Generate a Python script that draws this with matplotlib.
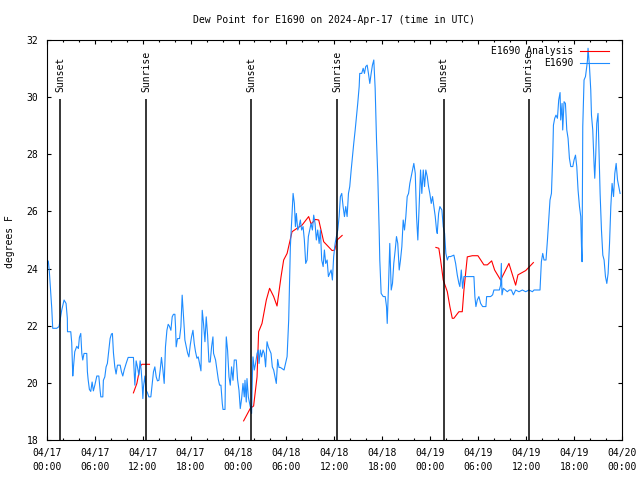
import matplotlib
matplotlib.use("Agg")
import matplotlib.pyplot as plt
import numpy as np

# hours since 2024-04-17 00:00 UTC, dew point in deg F
obs_hours = [
    0.20, 0.33, 0.50, 0.63, 0.75, 1.25, 1.54, 1.67, 1.88, 2.17, 2.42, 2.58, 2.60, 3.01, 3.13, 3.21,
    3.26, 3.33, 3.51, 3.76, 3.96, 4.09, 4.26, 4.39, 4.51, 4.67, 5.01, 5.09, 5.18, 5.34, 5.51, 5.68,
    5.84, 6.02, 6.27, 6.52, 6.68, 6.77, 7.02, 7.09, 7.27, 7.43, 7.59, 7.77, 7.93, 8.10, 8.22, 8.35,
    8.52, 8.68, 8.85, 9.19, 9.35, 9.52, 9.69, 9.94, 10.19, 10.85, 10.94, 11.03, 11.19, 11.35, 11.53,
    11.69, 11.82, 11.94, 12.03, 12.11, 12.28, 12.44, 12.61, 12.78, 13.03, 13.20, 13.36, 13.53, 13.70,
    13.86, 14.04, 14.20, 14.36, 14.54, 14.70, 14.86, 15.04, 15.20, 15.36, 15.54, 15.70, 15.86, 16.04,
    16.12, 16.20, 16.37, 16.62, 16.79, 16.95, 17.04, 17.21, 17.29, 17.46, 17.62, 17.79, 17.96, 18.12,
    18.30, 18.46, 18.62, 18.80, 18.96, 19.12, 19.30, 19.46, 19.62, 19.80, 19.96, 20.13, 20.30, 20.46,
    20.63, 20.80, 20.88, 21.13, 21.30, 21.47, 21.63, 21.80, 21.97, 22.06, 22.31, 22.38, 22.47, 22.63,
    22.81, 22.97, 23.13, 23.31, 23.47, 23.72, 23.88, 24.06, 24.22, 24.39, 24.56, 24.72, 24.81, 24.97,
    25.06, 25.23, 25.48, 25.64, 25.73, 25.81, 25.98, 26.14, 26.32, 26.48, 26.57, 26.73, 26.89, 27.07,
    27.23, 27.39, 27.57, 27.73, 27.89, 28.07, 28.23, 28.40, 28.57, 28.73, 28.90, 29.07, 29.24, 29.70,
    30.08, 30.28, 30.49, 30.70, 30.83, 30.99, 31.12, 31.24, 31.41, 31.58, 31.74, 31.90, 32.08, 32.24,
    32.41, 32.58, 32.74, 32.91, 33.08, 33.25, 33.41, 33.58, 33.74, 33.91, 34.09, 34.25, 34.41, 34.59,
    34.75, 34.91, 35.09, 35.25, 35.41, 35.59, 35.75, 35.91, 36.09, 36.25, 36.42, 36.59, 36.75, 36.92,
    37.09, 37.26, 37.42, 37.59, 37.76, 37.92, 38.10, 38.26, 38.42, 38.60, 38.76, 38.92, 39.10, 39.17,
    39.42, 39.60, 39.76, 39.92, 40.10, 40.26, 40.43, 40.60, 40.76, 40.93, 41.10, 41.27, 41.43, 41.60,
    41.68, 41.85, 42.11, 42.36, 42.52, 42.61, 42.77, 42.93, 43.11, 43.27, 43.43, 43.61, 43.77, 43.93,
    44.11, 44.27, 44.44, 44.61, 44.77, 44.94, 45.11, 45.28, 45.44, 45.61, 45.78, 45.94, 46.12, 46.28,
    46.44, 46.62, 46.78, 46.94, 47.12, 47.28, 47.44, 47.62, 47.78, 47.94, 48.12, 48.28, 48.45, 48.62,
    48.78, 48.87, 49.04, 49.20, 49.45, 49.62, 49.79, 49.95, 50.13, 50.29, 50.54, 50.95, 51.17, 51.38,
    51.58, 51.70, 51.88, 52.04, 52.21, 53.46, 53.58, 53.71, 53.88, 54.08, 54.30, 54.55, 54.96, 55.05,
    55.55, 55.80, 55.96, 56.64, 56.80, 56.89, 56.97, 57.14, 57.39, 57.64, 57.89, 58.15, 58.40, 58.68,
    59.10, 59.52, 59.94, 60.35, 60.78, 60.98, 61.73, 61.90, 62.07, 62.23, 62.48, 62.66, 62.82, 62.98,
    63.16, 63.32, 63.41, 63.57, 63.73, 63.91, 64.07, 64.24, 64.32, 64.49, 64.57, 64.74, 64.91, 65.08,
    65.24, 65.41, 65.58, 65.83, 65.99, 66.17, 66.33, 66.49, 66.67, 66.83, 66.92, 66.99, 67.08, 67.24,
    67.42, 67.58, 67.67, 67.74, 67.92, 68.08, 68.17, 68.33, 68.42, 68.50, 68.58, 68.71, 68.83, 68.99,
    69.08, 69.25, 69.42, 69.59, 69.75, 69.92, 70.09, 70.25, 70.43, 70.59, 70.75, 70.93, 71.09, 71.26,
    71.43, 71.59, 71.75,
]
obs_dewpt = [
    24.26, 23.89, 23.19, 22.61, 21.91, 21.91, 21.97, 22.20, 22.55, 22.90, 22.78, 22.26, 21.79, 21.79, 21.40, 20.68,
    20.24, 20.50, 21.09, 21.28, 21.20, 21.59, 21.73, 21.03, 20.80, 21.03, 21.03, 20.39, 20.12, 19.77, 19.70, 20.03,
    19.72, 19.92, 20.24, 20.24, 19.74, 19.51, 19.51, 20.09, 20.21, 20.56, 20.68, 21.15, 21.55, 21.71, 21.73, 21.05,
    20.56, 20.31, 20.62, 20.62, 20.39, 20.24, 20.45, 20.68, 20.89, 20.89, 20.39, 19.92, 20.77, 20.56, 20.27,
    20.77, 20.45, 19.98, 19.45, 19.86, 20.24, 19.74, 19.65, 19.51, 19.51, 19.98, 20.39, 20.56, 20.21,
    20.07, 20.09, 20.45, 20.89, 20.45, 19.98, 21.26, 21.84, 22.05, 21.98, 21.84, 22.31, 22.40, 22.40,
    21.96, 21.26, 21.55, 21.55, 21.96, 23.07, 22.68, 21.91, 21.50, 21.26, 21.05, 20.91, 21.32, 21.61,
    21.84, 21.38, 21.09, 20.86, 20.91, 20.68, 20.42, 22.54, 22.08, 21.44, 22.31, 21.67, 20.73, 20.73,
    21.26, 21.61, 21.03, 20.80, 20.45, 20.12, 19.92, 19.92, 19.28, 19.07, 19.07, 20.45, 21.61, 21.15,
    20.21, 19.92, 20.56, 20.09, 20.80, 20.80, 20.12, 19.74, 19.10, 19.45, 19.98, 19.51, 20.09, 19.33,
    20.15, 19.51, 19.16, 18.93, 20.21, 20.91, 20.45, 20.68, 21.03, 21.15, 20.68, 21.15, 20.91, 21.15,
    21.03, 20.56, 21.44, 21.26, 21.15, 21.03, 20.56, 20.45, 20.21, 19.98, 20.82, 20.54, 20.54, 20.45,
    20.92, 22.20, 24.77, 25.93, 26.63, 26.28, 25.47, 25.93, 25.35, 25.47, 25.70, 25.35, 25.47, 25.00,
    24.18, 24.30, 25.12, 25.35, 25.58, 25.35, 25.87, 25.58, 25.00, 25.35, 24.88, 25.35, 24.30, 24.07,
    24.65, 24.18, 24.30, 23.72, 23.83, 23.95, 23.60, 24.42, 24.88, 25.12, 25.35, 25.82, 26.52, 26.63,
    26.17, 25.82, 26.17, 25.82, 26.63, 26.87, 27.45, 27.92, 28.38, 28.85, 29.32, 29.78, 30.37, 30.83,
    30.83, 31.01, 30.83, 31.07, 31.12, 30.83, 30.48, 30.83, 31.12, 31.30, 30.31, 28.50, 27.22, 25.35,
    24.30, 23.13, 23.02, 23.02, 22.67, 22.08, 23.37, 24.88, 23.25, 23.48, 24.18, 24.65, 25.12, 24.88,
    23.95, 24.30, 24.77, 25.70, 25.35, 25.82, 26.52, 26.63, 26.98, 27.22, 27.45, 27.68, 27.33, 25.82,
    25.00, 26.28, 27.45, 26.63, 27.45, 26.87, 27.45, 27.22, 26.87, 26.63, 26.28, 26.52, 26.17, 25.82,
    25.35, 25.23, 25.93, 26.17, 26.05, 25.47, 25.23, 24.53, 24.30, 24.42, 24.42, 24.47, 24.18, 23.77,
    23.48, 23.37, 23.95, 23.31, 23.72, 23.72, 23.02, 22.67, 22.90, 23.02, 22.78, 22.67, 22.67, 23.02,
    23.02, 23.08, 23.25, 23.25, 23.42, 24.18, 23.08, 23.31, 23.25, 23.19, 23.25, 23.25, 23.08, 23.25,
    23.19, 23.25, 23.19, 23.25, 23.19, 23.25, 23.25, 24.24, 24.53, 24.30, 24.30, 25.00, 25.70, 26.40,
    26.63, 27.92, 29.02, 29.26, 29.37, 29.26, 29.90, 30.16, 29.20, 29.78, 28.85, 29.84, 29.78, 28.85,
    28.56, 27.86, 27.57, 27.57, 27.80, 27.97, 27.57, 26.75, 26.17, 25.82, 24.77, 24.24, 28.97, 30.60,
    30.72, 31.07, 31.30, 31.71, 31.07, 30.25, 29.37, 28.85, 28.15, 27.62, 27.16, 28.03, 29.08, 29.43,
    28.50, 26.63, 25.35, 24.47, 24.30, 23.72, 23.48, 23.83, 24.88, 26.17, 26.98, 26.52, 27.33, 27.68,
    27.10, 26.87, 26.63,
]

# analysis, three separate pieces
ana1_hours = [10.85, 11.28, 11.69, 11.90, 12.86]
ana1_dewpt = [19.65, 19.98, 20.57, 20.65, 20.65]
ana2_hours = [24.64, 25.48, 25.89, 26.32, 26.52, 26.94, 27.48, 27.89, 28.40, 28.82, 29.32, 29.65,
              30.08, 30.70, 31.33, 31.95, 32.78, 33.08, 33.62, 34.04, 34.66, 35.71, 36.04, 36.34, 36.97]
ana2_dewpt = [18.67, 19.11, 19.19, 20.21, 21.79, 22.08, 22.90, 23.31, 23.02, 22.69, 23.71, 24.30,
              24.53, 25.29, 25.41, 25.52, 25.82, 25.56, 25.72, 25.70, 24.94, 24.63, 24.65, 25.00, 25.16]
ana3_hours = [48.70, 49.07, 49.29, 49.62, 50.13, 50.45, 50.75, 50.95, 51.58, 52.00, 52.21, 52.63,
              53.26, 53.96, 54.71, 55.14, 55.68, 56.05, 56.80, 57.84, 58.68, 58.97, 59.94, 60.90]
ana3_dewpt = [24.74, 24.71, 24.30, 23.60, 23.19, 22.67, 22.26, 22.26, 22.49, 22.49, 23.25, 24.41,
              24.45, 24.45, 24.13, 24.13, 24.27, 23.95, 23.60, 24.18, 23.42, 23.78, 23.93, 24.21]

sun_hours = [1.67, 12.44, 25.60, 36.38, 49.66, 60.31]
sun_labels = ["Sunset", "Sunrise", "Sunset", "Sunrise", "Sunset", "Sunrise"]

tick_hours = list(range(0, 73, 6))
tick_labels = ["04/17\n00:00", "04/17\n06:00", "04/17\n12:00", "04/17\n18:00",
               "04/18\n00:00", "04/18\n06:00", "04/18\n12:00", "04/18\n18:00",
               "04/19\n00:00", "04/19\n06:00", "04/19\n12:00", "04/19\n18:00",
               "04/20\n00:00"]

plt.rcParams['font.family'] = 'DejaVu Sans Mono'
plt.rcParams['font.size'] = 7

fig = plt.figure(figsize=(6.4, 4.8), dpi=100)
ax = fig.add_axes([0.073, 0.0833, 0.899, 0.8334])

ax.plot(ana1_hours, ana1_dewpt, color='red', lw=0.8, label='E1690 Analysis')
ax.plot(ana2_hours, ana2_dewpt, color='red', lw=0.8)
ax.plot(ana3_hours, ana3_dewpt, color='red', lw=0.8)
ax.plot(obs_hours, obs_dewpt, color='#1e8cff', lw=0.8, label='E1690')

for h, lab in zip(sun_hours, sun_labels):
    ax.vlines(h, 18, 29.93, color='black', lw=1.1, zorder=5)
    ax.text(h, 30.18, lab, rotation=90, ha='center', va='bottom')

ax.set_xlim(0, 72)
ax.set_ylim(18, 32)
ax.set_xticks(tick_hours)
ax.set_xticklabels(tick_labels, linespacing=1.5)
ax.set_xticks(np.arange(0, 73, 2), minor=True)
ax.set_yticks(range(18, 33, 2))
ax.tick_params(which='both', direction='in', top=True, right=True, width=0.8)
ax.tick_params(which='major', length=3, pad=6)
ax.tick_params(which='minor', length=1.5)
for s in ax.spines.values():
    s.set_linewidth(0.8)

ax.legend(loc='upper right', bbox_to_anchor=(0.978, 0.985), frameon=False, markerfirst=False,
          handlelength=3, handletextpad=0.7, labelspacing=0.2, borderpad=0, borderaxespad=0)

fig.text(0.522, 0.958, "Dew Point for E1690 on 2024-Apr-17 (time in UTC)", ha='center', va='center')
fig.text(0.016, 0.497, "degrees F", rotation=90, ha='center', va='center')

fig.savefig("out.png", dpi=100)
